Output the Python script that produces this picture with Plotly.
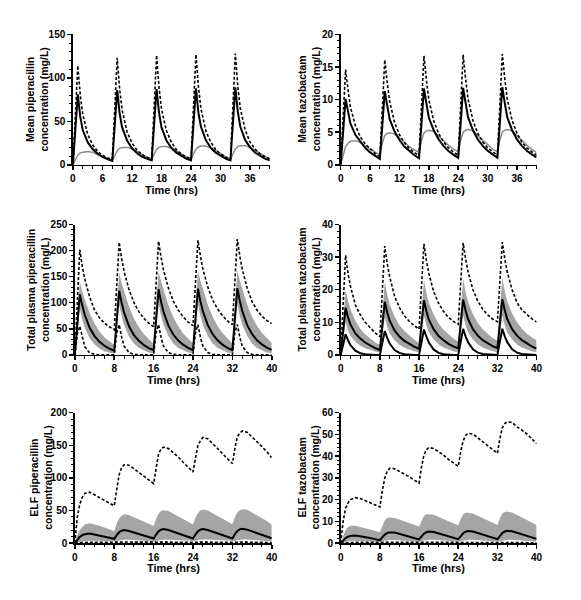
import plotly.graph_objects as go

# ---------------- data ----------------
T = [0, 0.5, 1, 1.5, 2, 3, 4, 5, 6, 7,
     8, 8.5, 9, 9.5, 10, 11, 12, 13, 14, 15,
     16, 16.5, 17, 17.5, 18, 19, 20, 21, 22, 23,
     24, 24.5, 25, 25.5, 26, 27, 28, 29, 30, 31,
     32, 32.5, 33, 33.5, 34, 35, 36, 37, 38, 39,
     40]

# Panel 1: mean piperacillin
p1_dashed = [0, 57, 114, 80, 58, 35, 23, 15.5, 11, 8,
             6, 64, 123, 87, 63, 38, 25, 17, 12, 8.5,
             6.5, 66, 126, 89, 64, 39, 26, 17.5, 12.5, 9,
             6.5, 67, 127, 90, 65, 39, 26, 17.5, 12.5, 9,
             6.5, 67, 128, 90, 65, 40, 26, 18, 12.5, 9,
             6.8]
p1_solid = [0, 40, 81, 55, 40, 26, 18, 13, 9, 6.5,
            4.5, 45, 86, 59, 43, 28, 19, 13.5, 9.5, 7,
            5, 46, 87, 60, 43, 28, 19.5, 14, 10, 7,
            5, 46, 88, 60, 44, 28.5, 19.5, 14, 10, 7,
            5, 47, 89, 61, 44, 28.5, 20, 14, 10, 7,
            5]
p1_gray = [0, 6, 11, 13.5, 14.5, 15.3, 14.3, 11.8, 9.2, 7,
           5, 11, 16, 19, 20, 20, 18.5, 15.5, 12, 9,
           6, 12, 17.5, 20, 21, 21, 19, 16, 12.5, 9.5,
           6, 12.5, 18, 20.5, 21.5, 21.5, 19.5, 16.5, 13, 9.5,
           6, 12.5, 18, 21, 22, 22, 20, 16.5, 13, 9.5,
           6.5]

# Panel 2: mean tazobactam
p2_dashed = [0, 7.5, 14.6, 11.5, 8.8, 6.0, 4.3, 3.2, 2.4, 1.75,
             1.25, 8.6, 16.1, 12.6, 9.7, 6.5, 4.6, 3.4, 2.5, 1.9,
             1.4, 9.0, 16.7, 13.0, 10.0, 6.7, 4.8, 3.5, 2.6, 1.95,
             1.45, 9.1, 16.9, 13.2, 10.1, 6.8, 4.8, 3.5, 2.6, 2.0,
             1.45, 9.2, 17.0, 13.2, 10.1, 6.8, 4.8, 3.5, 2.6, 2.0,
             1.5]
p2_solid = [0, 5.2, 10.1, 8.2, 6.3, 4.6, 3.5, 2.6, 1.9, 1.35,
            0.9, 6.0, 11.3, 9.1, 7.0, 5.1, 3.8, 2.8, 2.1, 1.5,
            1.0, 6.3, 11.7, 9.4, 7.2, 5.3, 3.9, 2.9, 2.1, 1.55,
            1.05, 6.4, 11.8, 9.5, 7.3, 5.3, 3.9, 2.9, 2.15, 1.6,
            1.1, 6.4, 11.9, 9.5, 7.3, 5.3, 3.9, 2.9, 2.15, 1.6,
            1.15]
p2_gray = [0, 1.5, 2.8, 3.3, 3.6, 3.7, 3.4, 2.9, 2.4, 1.95,
           1.55, 3.3, 4.5, 4.8, 4.9, 4.7, 4.1, 3.4, 2.8, 2.3,
           1.9, 3.7, 4.9, 5.2, 5.3, 5.1, 4.4, 3.6, 3.0, 2.4,
           2.0, 3.8, 5.0, 5.3, 5.4, 5.2, 4.5, 3.7, 3.0, 2.4,
           2.0, 3.8, 5.0, 5.3, 5.4, 5.2, 4.5, 3.7, 3.0, 2.4,
           1.85]

# Panel 3: total plasma piperacillin
p3_upper = [0, 100, 202, 170, 146, 111, 86, 71, 61, 54,
            48, 132, 216, 185, 160, 125, 100, 83, 70, 61,
            54, 136, 218, 188, 163, 128, 103, 86, 73, 63,
            56, 138, 220, 190, 165, 130, 105, 88, 75, 65,
            58, 140, 222, 190, 165, 128, 102, 86, 74, 66,
            60]
p3_median = [0, 58, 116, 95, 77, 52, 36, 25, 17.5, 12,
             8, 65, 123, 100, 81, 55, 38, 27, 19, 13,
             9, 67, 126, 102, 83, 56, 39, 27.5, 19.5, 13.5,
             9, 68, 127, 103, 84, 57, 39.5, 28, 19.5, 13.5,
             9, 68, 128, 104, 84, 57, 40, 28, 20, 14,
             9.5]
p3_band_hi = [0, 70, 140, 122, 106, 80, 60, 45, 34, 26,
              19, 88, 157, 138, 121, 92, 70, 53, 40, 30,
              21, 90, 160, 141, 124, 95, 72, 55, 41, 31,
              22, 91, 161, 142, 125, 96, 73, 55, 42, 31,
              22, 92, 162, 143, 126, 96, 73, 56, 42, 32,
              23]
p3_band_lo = [0, 45, 88, 68, 52, 32, 20, 12, 7, 4,
              2.5, 50, 95, 74, 57, 35, 22, 13, 8, 4.5,
              2.5, 51, 97, 75, 58, 36, 22, 13, 8, 4.5,
              2.5, 51, 97, 75, 58, 36, 22, 13, 8, 4.5,
              2.5, 51, 97, 75, 58, 36, 22, 13, 8, 4.5,
              3]
p3_lower = [0, 40, 55, 32, 16, 4, 1, 0.3, 0, 0,
            0, 42, 58, 34, 17, 4.5, 1, 0.3, 0, 0,
            0, 42, 58, 34, 17, 4.5, 1, 0.3, 0, 0,
            0, 42, 58, 34, 17, 4.5, 1, 0.3, 0, 0,
            0, 42, 58, 34, 17, 4.5, 1, 0.3, 0, 0,
            0]

# Panel 4: total plasma tazobactam
p4_upper = [0, 15.5, 30.6, 25, 21, 15.3, 12.3, 10, 8.3, 6.8,
            5.6, 19.5, 33.4, 28, 24, 18, 14.5, 12, 10.3, 9,
            7.9, 21, 34.1, 29, 25, 19.3, 15.8, 13.3, 11.5, 10.3,
            9.4, 22, 34.4, 29.5, 25.5, 20, 16.5, 14, 12.3, 11,
            10.2, 22.4, 34.6, 29.5, 25.5, 20, 16, 13.8, 12.3, 11.1,
            10.1]
p4_median = [0, 7.3, 14.5, 11.5, 9.3, 6.6, 5.0, 3.8, 2.9, 2.1,
             1.5, 9.0, 16.3, 13.0, 10.5, 7.5, 5.6, 4.3, 3.3, 2.5,
             1.8, 9.3, 16.8, 13.4, 10.8, 7.8, 5.8, 4.5, 3.4, 2.6,
             2.0, 9.5, 17.0, 13.6, 11.0, 7.9, 5.9, 4.5, 3.5, 2.7,
             2.1, 9.6, 17.1, 13.7, 11.0, 7.9, 5.9, 4.5, 3.5, 2.6,
             1.9]
p4_band_hi = [0, 10, 20, 16.5, 14, 10.5, 8, 6.3, 5, 3.9,
              3.0, 12.7, 22.4, 18.5, 15.5, 11.8, 9.2, 7.3, 5.9, 4.7,
              3.6, 13.3, 23.0, 19.0, 16.0, 12.3, 9.6, 7.7, 6.2, 5.0,
              4.0, 13.7, 23.4, 19.3, 16.3, 12.5, 9.8, 7.9, 6.4, 5.2,
              4.3, 14.0, 23.6, 19.5, 16.5, 12.7, 10.0, 8.0, 6.5, 5.4,
              4.5]
p4_band_lo = [0, 5, 10, 7.5, 5.8, 4, 2.8, 2, 1.4, 1.0,
              0.7, 6.2, 11.5, 8.6, 6.6, 4.5, 3.1, 2.2, 1.6, 1.1,
              0.8, 6.4, 12, 9, 6.9, 4.7, 3.2, 2.3, 1.6, 1.1,
              0.8, 6.4, 12, 9, 6.9, 4.7, 3.2, 2.3, 1.6, 1.1,
              0.8, 6.4, 12, 9, 6.9, 4.7, 3.2, 2.3, 1.6, 1.1,
              0.8]
p4_lower = [0, 3.5, 6.3, 4.5, 3.0, 1.3, 0.5, 0.2, 0.05, 0,
            0, 3.8, 7.3, 5.2, 3.5, 1.5, 0.6, 0.2, 0.05, 0,
            0, 4.0, 7.8, 5.6, 3.8, 1.6, 0.6, 0.2, 0.05, 0,
            0, 4.1, 8.0, 5.7, 3.9, 1.7, 0.7, 0.25, 0.1, 0,
            0, 4.1, 8.0, 5.7, 3.9, 1.7, 0.7, 0.25, 0.1, 0,
            0]

# Panel 5: ELF piperacillin
p5_upper = [0, 40, 60, 70, 76, 78, 74, 70, 66, 61.5,
            57, 82, 105, 116, 120, 119.5, 114, 109, 103, 97,
            91, 115, 137, 144, 147, 145, 139, 132, 124, 116,
            109, 130, 150, 157, 162, 160, 153, 145, 137, 129.5,
            122, 145, 163, 169, 172, 170, 163, 156, 148, 140,
            131]
p5_median = [0, 5, 9.5, 12, 13.5, 14.5, 13, 11.3, 9.7, 8.1,
             6.5, 12, 16.5, 19, 20, 18.5, 16, 13.8, 11.5, 9.3,
             7, 13, 18, 20.5, 21.5, 20, 17.3, 14.8, 12.3, 9.8,
             7, 13, 18, 20.5, 21.5, 20, 17.3, 14.8, 12.3, 9.8,
             7, 13.5, 18.5, 21, 22, 20.5, 17.8, 15, 12.5, 10,
             7.3]
p5_band_hi = [0, 12, 20, 25, 28.5, 30.5, 29, 26.5, 24, 21,
              18, 30, 38, 42, 44, 43, 39.5, 36, 32.5, 29,
              26, 37, 45, 49, 50.5, 49, 45, 41, 37, 32.5,
              28.5, 39, 46, 50, 51.5, 50, 46, 42, 37.5, 33,
              29, 40, 47, 50.5, 52, 51, 47, 43, 38.5, 34,
              28]
p5_band_lo = [0, 1, 2, 2.7, 3.2, 3.5, 3.3, 3, 2.6, 2.2,
              1.8, 2.8, 3.8, 4.5, 4.9, 5, 4.6, 4, 3.4, 2.8,
              2.2, 3.2, 4.2, 4.8, 5.2, 5.2, 4.8, 4.2, 3.6, 3,
              2.4, 3.3, 4.3, 4.9, 5.3, 5.3, 4.9, 4.3, 3.7, 3,
              2.4, 3.3, 4.3, 4.9, 5.3, 5.3, 4.9, 4.3, 3.7, 3,
              2.4]
p5_lower = [0, 0.3, 0.6, 0.8, 1.0, 1.1, 1.0, 0.9, 0.8, 0.7,
            0.6, 0.9, 1.2, 1.4, 1.5, 1.5, 1.3, 1.1, 0.9, 0.8,
            0.7, 1.0, 1.3, 1.5, 1.6, 1.6, 1.4, 1.2, 1.0, 0.8,
            0.7, 1.0, 1.3, 1.5, 1.6, 1.6, 1.4, 1.2, 1.0, 0.8,
            0.7, 1.0, 1.3, 1.5, 1.6, 1.6, 1.4, 1.2, 1.0, 0.8,
            0.7]

# Panel 6: ELF tazobactam
p6_upper = [0, 10, 16, 18.5, 20, 20.9, 20.5, 19.5, 18.5, 17.5,
            16.6, 24, 30, 33, 34.4, 34.2, 33, 31.7, 30.5, 29,
            27.6, 35, 40.5, 43, 44, 43.5, 42, 40.5, 38.5, 37,
            35.3, 42, 47, 49.5, 50.5, 50.2, 48.5, 46.5, 44.8, 43,
            41.3, 48, 53, 55, 55.8, 55.5, 53.5, 52, 50.3, 48,
            45.7]
p6_median = [0, 1.2, 2.2, 2.9, 3.3, 3.5, 3.2, 2.8, 2.3, 1.8,
             1.3, 2.6, 3.9, 4.6, 4.9, 4.8, 4.2, 3.6, 3.0, 2.3,
             1.7, 3.0, 4.3, 5.0, 5.3, 5.1, 4.5, 3.8, 3.1, 2.4,
             1.8, 3.1, 4.5, 5.2, 5.5, 5.3, 4.6, 3.9, 3.2, 2.5,
             1.8, 3.2, 4.6, 5.3, 5.6, 5.4, 4.7, 4.0, 3.3, 2.6,
             1.9]
p6_band_hi = [0, 3.5, 6, 7.3, 8, 8, 7.5, 7, 6.3, 5.7,
              5, 8, 10.5, 11.5, 11.8, 11.5, 10.8, 10, 9.2, 8.4,
              7.6, 10.5, 12.5, 13.2, 13.3, 13, 12, 11, 10, 9,
              8.1, 11, 13.2, 13.9, 14, 13.6, 12.6, 11.5, 10.4, 9.3,
              8.3, 11.3, 13.6, 14.3, 14.5, 14.1, 13, 11.8, 10.6, 9.5,
              8.2]
p6_band_lo = [0, 0.3, 0.6, 0.8, 0.9, 1.0, 0.9, 0.8, 0.7, 0.6,
              0.5, 0.8, 1.1, 1.3, 1.4, 1.4, 1.3, 1.1, 0.9, 0.7,
              0.6, 0.9, 1.2, 1.4, 1.5, 1.5, 1.4, 1.2, 1.0, 0.8,
              0.6, 0.9, 1.2, 1.4, 1.5, 1.5, 1.4, 1.2, 1.0, 0.8,
              0.6, 0.9, 1.2, 1.4, 1.5, 1.5, 1.4, 1.2, 1.0, 0.8,
              0.6]
p6_lower = [0, 0.1, 0.2, 0.25, 0.3, 0.3, 0.3, 0.25, 0.2, 0.2,
            0.15, 0.25, 0.35, 0.4, 0.4, 0.4, 0.35, 0.3, 0.25, 0.2,
            0.15, 0.25, 0.35, 0.4, 0.4, 0.4, 0.35, 0.3, 0.25, 0.2,
            0.15, 0.25, 0.35, 0.4, 0.4, 0.4, 0.35, 0.3, 0.25, 0.2,
            0.15, 0.25, 0.35, 0.4, 0.4, 0.4, 0.35, 0.3, 0.25, 0.2,
            0.15]

y_titles = ["Mean piperacillin<br>concentration (mg/L)",
            "Mean tazobactam<br>concentration (mg/L)",
            "Total plasma piperacillin<br>concentration (mg/L)",
            "Total plasma tazobactam<br>concentration (mg/L)",
            "ELF piperacillin<br>concentration (mg/L)",
            "ELF tazobactam<br>concentration (mg/L)"]
x_title = "Time (hrs)"
y_ranges = [150, 20, 250, 40, 200, 60]
y_dticks = [50, 5, 50, 10, 50, 10]
y_minor = [10, 1, 10, 2, 10, 2]
x_dticks = [6, 6, 8, 8, 8, 8]

# ---------------- layout geometry (pixels) ----------------
W, H = 581, 600
col_px = [(71, 271), (343, 542), (73, 273), (343, 542), (73, 273), (343, 542)]
row_px = [(29, 162), (29, 162), (223, 356), (223, 356), (415, 548), (415, 548)]
ytitle_cx = [34.5, 310.5, 35.5, 310.5, 38.5, 310.5]
xtitle_cy = [188, 188, 382, 382, 573, 573]

FONT = "Liberation Sans, Arial, sans-serif"
BAND = "rgb(165,165,165)"
GRAY = "rgb(140,140,140)"
DASH = "3px,2px"

fig = go.Figure()


def add(i, y, **kw):
    ax = "" if i == 0 else str(i + 1)
    fig.add_trace(go.Scatter(x=T, y=y, mode="lines", xaxis="x" + ax, yaxis="y" + ax,
                             showlegend=False, hoverinfo="skip", **kw))


def band(i, lo, hi):
    add(i, lo, line=dict(width=0, color=BAND))
    add(i, hi, line=dict(width=0, color=BAND), fill="tonexty", fillcolor=BAND)


# panel 1
add(0, p1_gray, line=dict(color=GRAY, width=1.5))
add(0, p1_solid, line=dict(color="black", width=2))
add(0, p1_dashed, line=dict(color="black", width=1.6, dash=DASH))
# panel 2
add(1, p2_gray, line=dict(color=GRAY, width=1.5))
add(1, p2_solid, line=dict(color="black", width=2))
add(1, p2_dashed, line=dict(color="black", width=1.6, dash=DASH))
# panel 3
band(2, p3_band_lo, p3_band_hi)
add(2, p3_median, line=dict(color="black", width=2))
add(2, p3_upper, line=dict(color="black", width=1.6, dash=DASH))
add(2, p3_lower, line=dict(color="black", width=1.6, dash=DASH))
# panel 4
band(3, p4_band_lo, p4_band_hi)
add(3, p4_median, line=dict(color="black", width=2))
add(3, p4_lower, line=dict(color="black", width=2))
add(3, p4_upper, line=dict(color="black", width=1.6, dash=DASH))
# panel 5
band(4, p5_band_lo, p5_band_hi)
add(4, p5_median, line=dict(color="black", width=2))
add(4, p5_upper, line=dict(color="black", width=1.6, dash=DASH))
add(4, p5_lower, line=dict(color="black", width=1.6, dash=DASH))
# panel 6
band(5, p6_band_lo, p6_band_hi)
add(5, p6_median, line=dict(color="black", width=2))
add(5, p6_upper, line=dict(color="black", width=1.6, dash=DASH))
add(5, p6_lower, line=dict(color="black", width=1.6, dash=DASH))

layout = dict(width=W, height=H, margin=dict(l=0, r=0, t=0, b=0),
              paper_bgcolor="white", plot_bgcolor="white",
              font=dict(family=FONT, color="black"))
annotations = []
tickfont = dict(family=FONT, size=10, color="black", weight="bold")
for i in range(6):
    ax = "" if i == 0 else str(i + 1)
    x0, x1 = col_px[i]
    y0, y1 = row_px[i]
    common = dict(showline=True, linecolor="black", linewidth=1.6, ticks="outside",
                  ticklen=4, tickwidth=1.5, tickcolor="black", showgrid=False,
                  zeroline=False, tickfont=tickfont, fixedrange=True)
    layout["xaxis" + ax] = dict(domain=[x0 / W, x1 / W], range=[0, 40], tick0=0,
                                dtick=x_dticks[i], anchor="y" + ax,
                                minor=dict(dtick=2, ticks="outside", ticklen=2.5,
                                           tickwidth=1, tickcolor="black"),
                                **common)
    layout["yaxis" + ax] = dict(domain=[1 - y1 / H, 1 - y0 / H], range=[0, y_ranges[i]],
                                tick0=0, dtick=y_dticks[i], anchor="x" + ax,
                                minor=dict(dtick=y_minor[i], ticks="outside", ticklen=2.5,
                                           tickwidth=1, tickcolor="black"),
                                **common)
    annotations.append(dict(text=y_titles[i], textangle=-90, xref="paper", yref="paper",
                            x=ytitle_cx[i] / W, y=1 - (y0 + y1) / 2 / H,
                            xanchor="center", yanchor="middle", showarrow=False,
                            font=dict(family=FONT, size=10.5, color="black", weight="bold")))
    annotations.append(dict(text=x_title, xref="paper", yref="paper",
                            x=(x0 + x1) / 2 / W, y=1 - xtitle_cy[i] / H,
                            xanchor="center", yanchor="middle", showarrow=False,
                            font=dict(family=FONT, size=11, color="black", weight="bold")))
layout["annotations"] = annotations
fig.update_layout(**layout)
fig.write_html("out.html", config={"displayModeBar": False, "staticPlot": True},
               post_script="document.body.style.margin='0px';document.body.style.overflow='hidden';")
